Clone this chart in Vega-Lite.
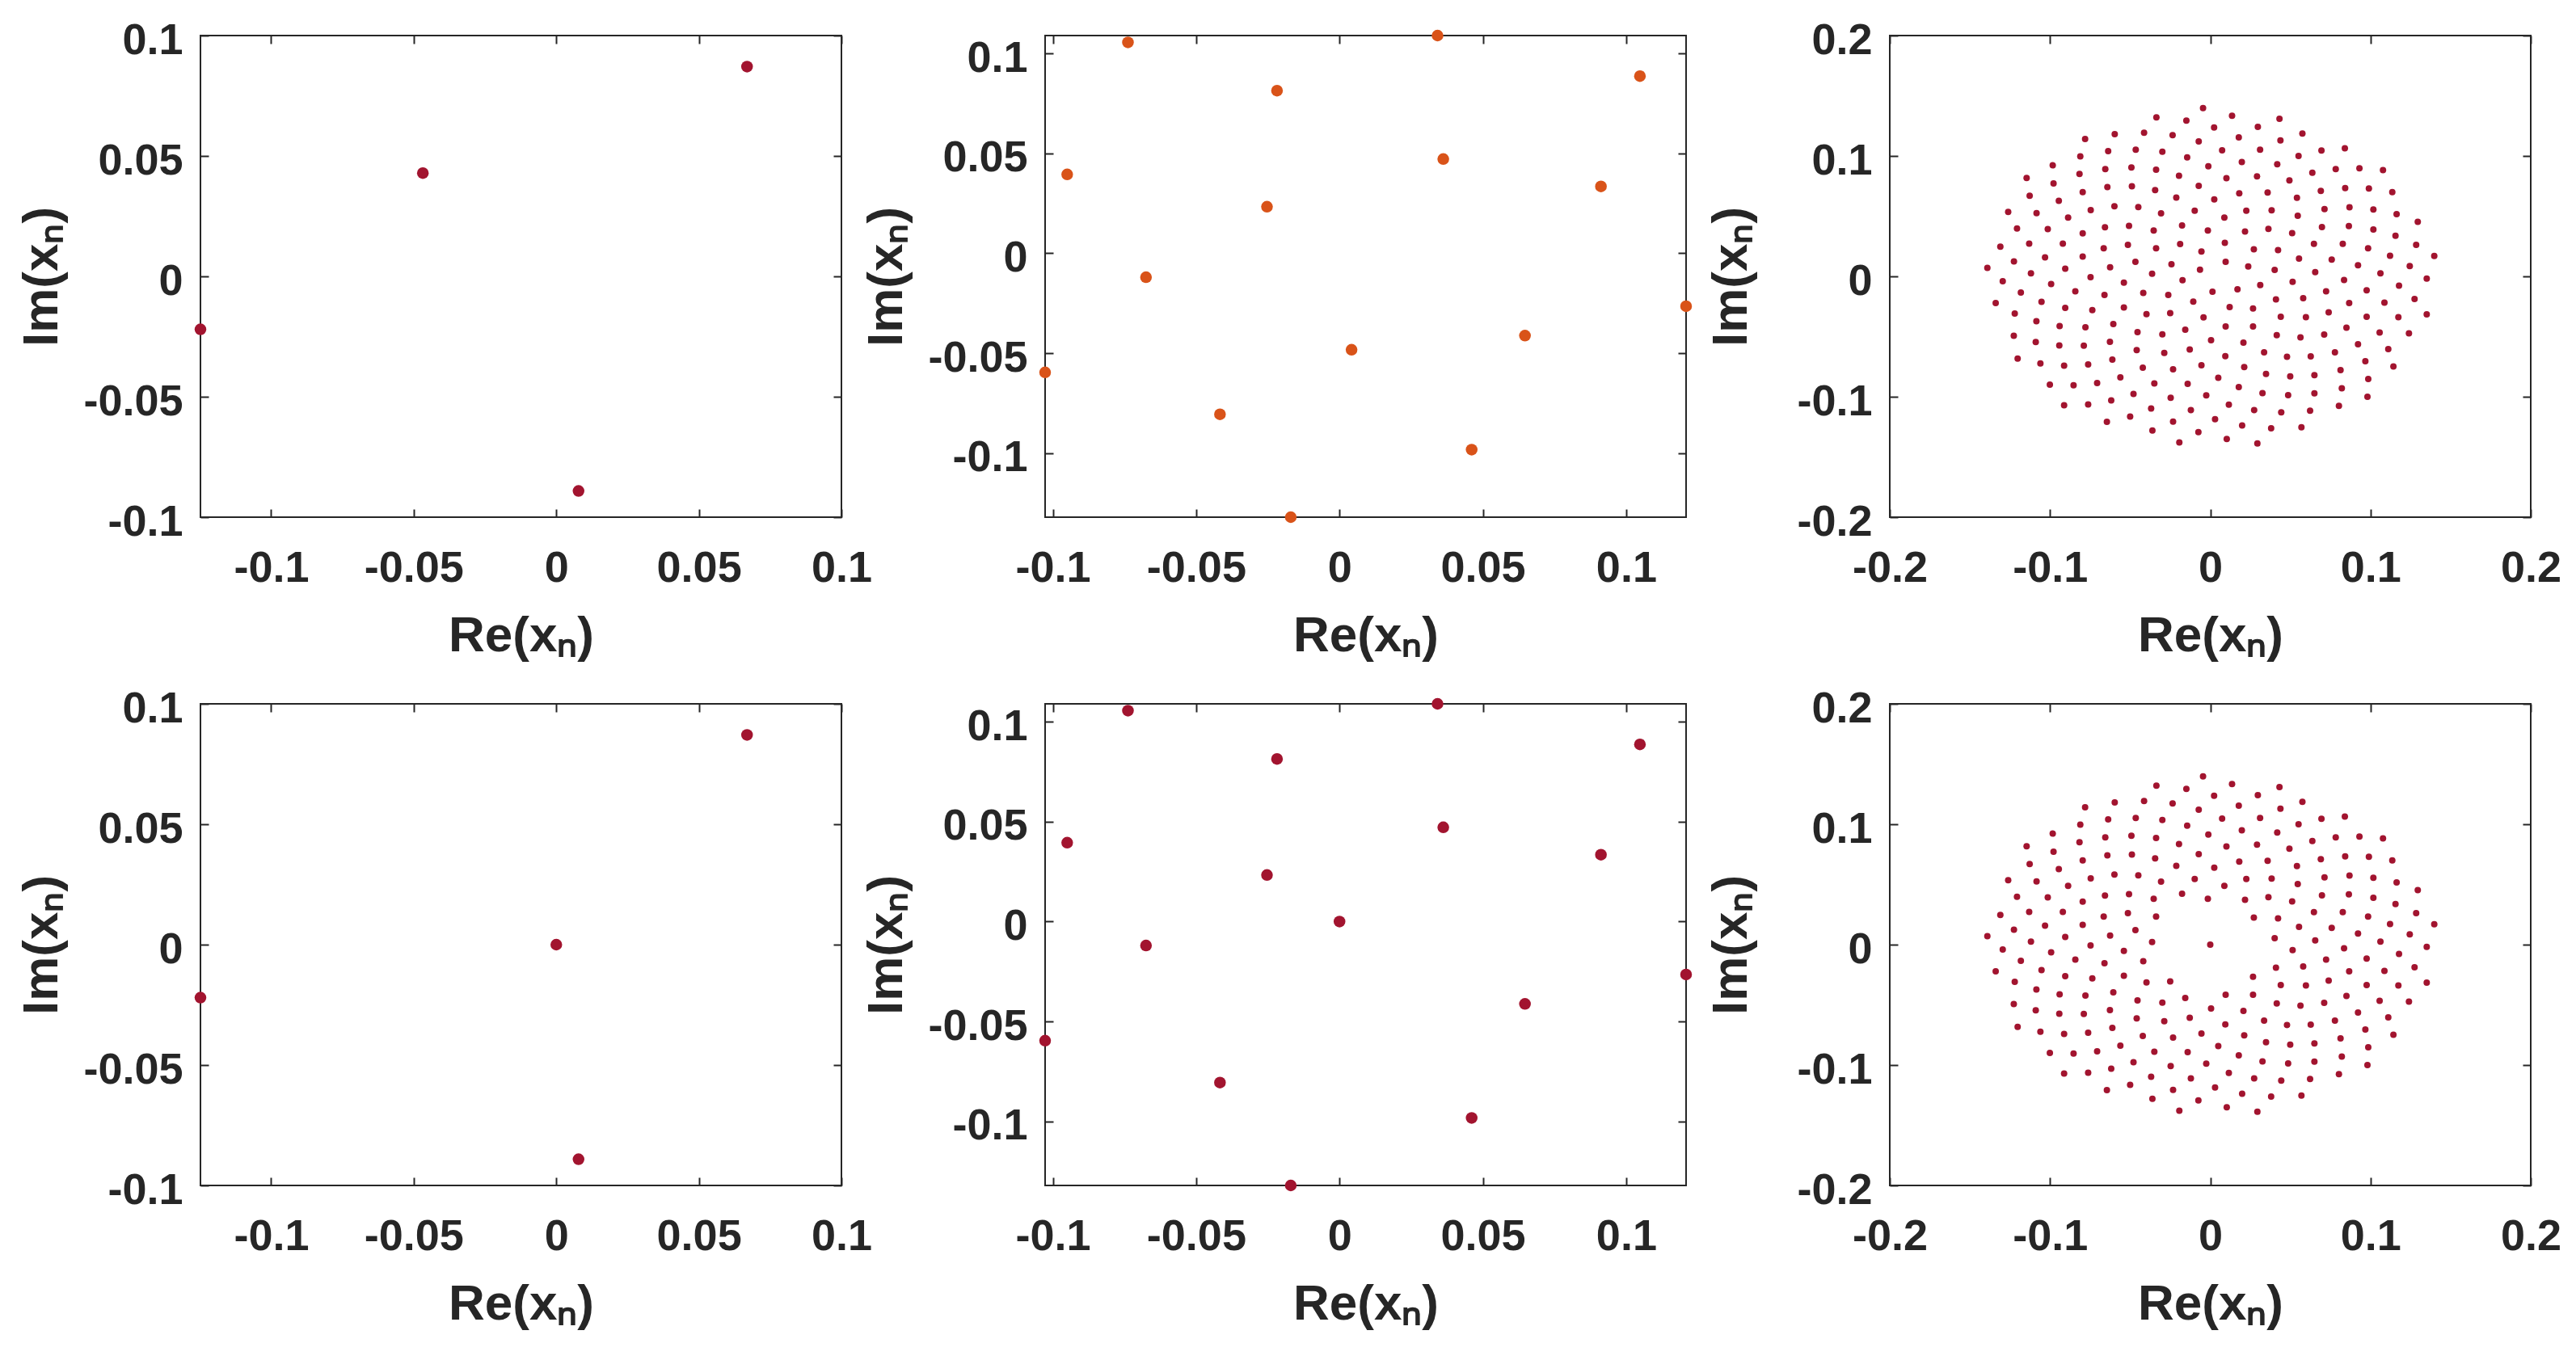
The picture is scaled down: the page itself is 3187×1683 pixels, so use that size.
{
  "$schema": "https://vega.github.io/schema/vega-lite/v6.json",
  "autosize": {"type": "none"},
  "padding": {"left": 248, "top": 44, "right": 2939, "bottom": 1639},
  "background": "white",
  "bounds": "flush",
  "columns": 3,
  "spacing": {"row": 231, "column": 252},
  "config": {
    "view": {"stroke": "#262626", "strokeWidth": 2},
    "font": "Liberation Sans",
    "axis": {
      "labelFont": "Liberation Sans", "labelFontSize": 54, "labelFontWeight": "bold", "labelColor": "#262626",
      "titleFont": "Liberation Sans", "titleFontSize": 62, "titleFontWeight": "bold", "titleColor": "#262626",
      "domain": false, "grid": false, "tickSize": -10, "tickWidth": 2, "tickColor": "#262626",
      "labelFlush": false, "labelOverlap": false
    }
  },
  "datasets": {
    "p1t": [{"x":0.0669,"y":0.0871},{"x":-0.0468,"y":0.0429},{"x":-0.1248,"y":-0.022},{"x":0.0078,"y":-0.0891}],
    "p1b": [{"x":0.0669,"y":0.0871},{"x":0,"y":0},{"x":-0.1248,"y":-0.022},{"x":0.0078,"y":-0.0891}],
    "p2t": [{"x":-0.0738,"y":0.1056},{"x":0.0342,"y":0.109},{"x":-0.0218,"y":0.0814},{"x":0.1048,"y":0.0887},{"x":-0.095,"y":0.0395},{"x":0.0362,"y":0.0472},{"x":0.0912,"y":0.0335},{"x":-0.0253,"y":0.0233},{"x":-0.0675,"y":-0.012},{"x":0.1209,"y":-0.0265},{"x":0.0647,"y":-0.0412},{"x":0.0042,"y":-0.0483},{"x":-0.1027,"y":-0.0596},{"x":-0.0417,"y":-0.0806},{"x":0.0461,"y":-0.0983},{"x":-0.017,"y":-0.1321}],
    "p2b": [{"x":-0.0738,"y":0.1056},{"x":0.0342,"y":0.109},{"x":-0.0218,"y":0.0814},{"x":0.1048,"y":0.0887},{"x":-0.095,"y":0.0395},{"x":0.0362,"y":0.0472},{"x":0.0912,"y":0.0335},{"x":-0.0253,"y":0.0233},{"x":-0.0675,"y":-0.012},{"x":0.1209,"y":-0.0265},{"x":0.0647,"y":-0.0412},{"x":0,"y":0},{"x":-0.1027,"y":-0.0596},{"x":-0.0417,"y":-0.0806},{"x":0.0461,"y":-0.0983},{"x":-0.017,"y":-0.1321}],
    "p3": [
      {"x":-0.0781,"y":0.1141,"g":"o"},{"x":-0.0596,"y":0.1181,"g":"o"},{"x":-0.0637,"y":0.1041,"g":"o"},{"x":-0.0811,"y":0.0996,"g":"o"},{"x":-0.0983,"y":0.0922,"g":"o"},{"x":-0.0655,"y":0.0891,"g":"o"},{"x":-0.0492,"y":0.0904,"g":"o"},{"x":-0.1146,"y":0.0817,"g":"o"},{"x":-0.0816,"y":0.0851,"g":"o"},{"x":-0.0978,"y":0.0772,"g":"o"},{"x":-0.0642,"y":0.0741,"g":"o"},{"x":-0.0489,"y":0.0748,"g":"o"},{"x":-0.1127,"y":0.067,"g":"o"},{"x":-0.0796,"y":0.0699,"g":"o"},{"x":-0.0945,"y":0.0627,"g":"o"},{"x":-0.1261,"y":0.0536,"g":"o"},{"x":-0.1084,"y":0.0526,"g":"o"},{"x":-0.0746,"y":0.0551,"g":"o"},{"x":-0.0598,"y":0.0583,"g":"o"},{"x":-0.0887,"y":0.0489,"g":"o"},{"x":-0.1206,"y":0.0397,"g":"o"},{"x":-0.1014,"y":0.0392,"g":"o"},{"x":-0.0657,"y":0.0408,"g":"o"},{"x":-0.0507,"y":0.0419,"g":"o"},{"x":-0.0796,"y":0.0357,"g":"o"},{"x":-0.131,"y":0.0247,"g":"o"},{"x":-0.113,"y":0.0272,"g":"o"},{"x":-0.092,"y":0.0272,"g":"o"},{"x":-0.0665,"y":0.0234,"g":"o"},{"x":-0.0514,"y":0.0261,"g":"o"},{"x":-0.1225,"y":0.0124,"g":"o"},{"x":-0.1031,"y":0.0158,"g":"o"},{"x":-0.0796,"y":0.0164,"g":"o"},{"x":-0.1391,"y":0.007,"g":"o"},{"x":-0.0905,"y":0.0064,"g":"o"},{"x":-0.0625,"y":0.0075,"g":"o"},{"x":-0.1119,"y":0.0026,"g":"o"},
      {"x":-0.0045,"y":0.1398,"g":"o"},{"x":-0.0336,"y":0.132,"g":"o"},{"x":-0.0149,"y":0.1293,"g":"o"},{"x":0.0136,"y":0.1334,"g":"o"},{"x":0.0432,"y":0.1309,"g":"o"},{"x":0.0024,"y":0.1237,"g":"o"},{"x":0.0297,"y":0.1242,"g":"o"},{"x":-0.0413,"y":0.1193,"g":"o"},{"x":-0.0235,"y":0.1173,"g":"o"},{"x":0.0178,"y":0.1155,"g":"o"},{"x":0.0438,"y":0.113,"g":"o"},{"x":-0.0072,"y":0.1121,"g":"o"},{"x":-0.0465,"y":0.1052,"g":"o"},{"x":-0.0299,"y":0.1036,"g":"o"},{"x":0.0074,"y":0.1047,"g":"o"},{"x":0.0311,"y":0.1052,"g":"o"},{"x":-0.0144,"y":0.0989,"g":"o"},{"x":0.0197,"y":0.0949,"g":"o"},{"x":0.0418,"y":0.0931,"g":"o"},{"x":-0.0012,"y":0.0915,"g":"o"},{"x":-0.0338,"y":0.0886,"g":"o"},{"x":-0.0195,"y":0.0835,"g":"o"},{"x":0.0101,"y":0.0815,"g":"o"},{"x":0.0292,"y":0.0831,"g":"o"},{"x":0.0494,"y":0.0797,"g":"o"},{"x":-0.0072,"y":0.0752,"g":"o"},{"x":-0.0344,"y":0.0717,"g":"o"},{"x":-0.0212,"y":0.0654,"g":"o"},{"x":0.0181,"y":0.069,"g":"o"},{"x":0.0358,"y":0.0697,"g":"o"},{"x":0.0025,"y":0.064,"g":"o"},{"x":-0.0449,"y":0.0576,"g":"o"},{"x":-0.0307,"y":0.0524,"g":"o"},{"x":-0.0097,"y":0.0546,"g":"o"},{"x":0.0225,"y":0.0546,"g":"o"},{"x":0.0383,"y":0.0549,"g":"o"},{"x":0.0088,"y":0.0489,"g":"o"},{"x":-0.0353,"y":0.0381,"g":"o"},{"x":-0.0176,"y":0.0422,"g":"o"},{"x":-0.0015,"y":0.0381,"g":"o"},{"x":0.0217,"y":0.0372,"g":"o"},{"x":0.0363,"y":0.0395,"g":"o"},{"x":0.0511,"y":0.0359,"g":"o"},{"x":0.0091,"y":0.0278,"g":"i"},{"x":-0.0338,"y":0.0234,"g":"o"},{"x":-0.0188,"y":0.0268,"g":"i"},{"x":-0.0055,"y":0.0207,"g":"i"},{"x":0.0272,"y":0.0225,"g":"o"},{"x":0.0423,"y":0.0218,"g":"o"},{"x":-0.0467,"y":0.012,"g":"o"},{"x":-0.0242,"y":0.01,"g":"i"},{"x":0.0096,"y":0.012,"g":"i"},{"x":-0.0064,"y":0.0055,"g":"i"},{"x":0.0237,"y":0.0082,"g":"i"},{"x":0.0402,"y":0.0053,"g":"o"},{"x":-0.0363,"y":0.0021,"g":"o"},
      {"x":0.0575,"y":0.1186,"g":"o"},{"x":0.0694,"y":0.1045,"g":"o"},{"x":0.084,"y":0.1063,"g":"o"},{"x":0.0551,"y":0.1,"g":"o"},{"x":0.0637,"y":0.086,"g":"o"},{"x":0.0783,"y":0.0891,"g":"o"},{"x":0.0931,"y":0.0898,"g":"o"},{"x":0.1078,"y":0.0882,"g":"o"},{"x":0.0541,"y":0.0652,"g":"o"},{"x":0.069,"y":0.071,"g":"o"},{"x":0.0842,"y":0.0734,"g":"o"},{"x":0.099,"y":0.073,"g":"o"},{"x":0.1136,"y":0.0699,"g":"o"},{"x":0.0546,"y":0.0504,"g":"o"},{"x":0.0713,"y":0.0558,"g":"o"},{"x":0.0869,"y":0.0573,"g":"o"},{"x":0.1018,"y":0.0556,"g":"o"},{"x":0.1163,"y":0.0516,"g":"o"},{"x":0.1295,"y":0.0453,"g":"o"},{"x":0.0697,"y":0.041,"g":"o"},{"x":0.0865,"y":0.0417,"g":"o"},{"x":0.1018,"y":0.039,"g":"o"},{"x":0.1156,"y":0.0337,"g":"o"},{"x":0.0647,"y":0.027,"g":"o"},{"x":0.0827,"y":0.027,"g":"o"},{"x":0.0985,"y":0.0234,"g":"o"},{"x":0.1285,"y":0.0261,"g":"o"},{"x":0.0554,"y":0.0147,"g":"o"},{"x":0.0758,"y":0.014,"g":"o"},{"x":0.0922,"y":0.0093,"g":"o"},{"x":0.1122,"y":0.0171,"g":"o"},{"x":0.1245,"y":0.0086,"g":"o"},{"x":0.1398,"y":0.0169,"g":"o"},{"x":0.0655,"y":0.0035,"g":"o"},{"x":0.1062,"y":0.0026,"g":"o"},
      {"x":-0.1295,"y":-0.0041,"g":"o"},{"x":-0.0747,"y":-0.0007,"g":"o"},{"x":-0.0993,"y":-0.0064,"g":"o"},{"x":-0.0539,"y":-0.0052,"g":"o"},{"x":-0.1182,"y":-0.0135,"g":"o"},{"x":-0.0842,"y":-0.0124,"g":"o"},{"x":-0.066,"y":-0.0155,"g":"o"},{"x":-0.1339,"y":-0.0222,"g":"o"},{"x":-0.1053,"y":-0.0211,"g":"o"},{"x":-0.0905,"y":-0.0262,"g":"o"},{"x":-0.0736,"y":-0.028,"g":"o"},{"x":-0.0539,"y":-0.0258,"g":"o"},{"x":-0.122,"y":-0.0309,"g":"o"},{"x":-0.1085,"y":-0.0372,"g":"o"},{"x":-0.094,"y":-0.0412,"g":"o"},{"x":-0.0779,"y":-0.0423,"g":"o"},{"x":-0.0605,"y":-0.0396,"g":"o"},{"x":-0.1226,"y":-0.0493,"g":"o"},{"x":-0.1089,"y":-0.0546,"g":"o"},{"x":-0.0942,"y":-0.0573,"g":"o"},{"x":-0.0789,"y":-0.0575,"g":"o"},{"x":-0.0626,"y":-0.0544,"g":"o"},{"x":-0.1202,"y":-0.0683,"g":"o"},{"x":-0.106,"y":-0.0723,"g":"o"},{"x":-0.0912,"y":-0.0741,"g":"o"},{"x":-0.0762,"y":-0.0731,"g":"o"},{"x":-0.0611,"y":-0.0691,"g":"o"},{"x":-0.1001,"y":-0.0899,"g":"o"},{"x":-0.0853,"y":-0.0904,"g":"o"},{"x":-0.0706,"y":-0.0886,"g":"o"},{"x":-0.0561,"y":-0.0839,"g":"o"},{"x":-0.0479,"y":-0.0976,"g":"o"},{"x":-0.0912,"y":-0.1071,"g":"o"},{"x":-0.0762,"y":-0.1063,"g":"o"},{"x":-0.0618,"y":-0.1031,"g":"o"},{"x":-0.05,"y":-0.1165,"g":"o"},{"x":-0.0645,"y":-0.1208,"g":"o"},
      {"x":-0.0173,"y":-0.0032,"g":"i"},{"x":-0.0418,"y":-0.0137,"g":"o"},{"x":-0.0262,"y":-0.0155,"g":"i"},{"x":0.0014,"y":-0.0128,"g":"i"},{"x":0.017,"y":-0.0108,"g":"i"},{"x":0.0312,"y":-0.0072,"g":"i"},{"x":0.0514,"y":-0.0046,"g":"o"},{"x":-0.0106,"y":-0.0209,"g":"i"},{"x":-0.0398,"y":-0.0314,"g":"o"},{"x":-0.025,"y":-0.0305,"g":"o"},{"x":0.0121,"y":-0.0255,"g":"i"},{"x":0.0267,"y":-0.0267,"g":"o"},{"x":0.041,"y":-0.0191,"g":"o"},{"x":-0.0042,"y":-0.0341,"g":"i"},{"x":-0.0454,"y":-0.0463,"g":"o"},{"x":-0.0299,"y":-0.0481,"g":"o"},{"x":-0.0156,"y":-0.0443,"g":"o"},{"x":0.0096,"y":-0.0416,"g":"o"},{"x":0.0267,"y":-0.0416,"g":"o"},{"x":0.044,"y":-0.0336,"g":"o"},{"x":0.0005,"y":-0.053,"g":"o"},{"x":0.0207,"y":-0.055,"g":"o"},{"x":0.0415,"y":-0.0488,"g":"o"},{"x":-0.0459,"y":-0.0613,"g":"o"},{"x":-0.0287,"y":-0.0636,"g":"o"},{"x":-0.0128,"y":-0.0607,"g":"o"},{"x":0.0094,"y":-0.0662,"g":"o"},{"x":0.0336,"y":-0.0631,"g":"o"},{"x":0.0479,"y":-0.0667,"g":"o"},{"x":-0.0421,"y":-0.0758,"g":"o"},{"x":-0.0232,"y":-0.0772,"g":"o"},{"x":-0.0055,"y":-0.0738,"g":"o"},{"x":0.0212,"y":-0.0754,"g":"o"},{"x":0.0348,"y":-0.081,"g":"o"},{"x":0.0499,"y":-0.083,"g":"o"},{"x":0.005,"y":-0.0843,"g":"o"},{"x":-0.0349,"y":-0.089,"g":"o"},{"x":-0.0141,"y":-0.0892,"g":"o"},{"x":0.0178,"y":-0.0919,"g":"o"},{"x":-0.0247,"y":-0.1009,"g":"o"},{"x":-0.0025,"y":-0.0989,"g":"o"},{"x":0.0326,"y":-0.0969,"g":"o"},{"x":0.0486,"y":-0.0986,"g":"o"},{"x":0.0116,"y":-0.1065,"g":"o"},{"x":-0.0369,"y":-0.1098,"g":"o"},{"x":-0.0121,"y":-0.111,"g":"o"},{"x":0.0274,"y":-0.111,"g":"o"},{"x":0.0443,"y":-0.113,"g":"o"},{"x":-0.0232,"y":-0.1206,"g":"o"},{"x":0.003,"y":-0.1187,"g":"o"},{"x":-0.0361,"y":-0.1281,"g":"o"},{"x":-0.0074,"y":-0.1293,"g":"o"},{"x":0.0199,"y":-0.1239,"g":"o"},{"x":0.038,"y":-0.1261,"g":"o"},{"x":-0.0193,"y":-0.138,"g":"o"},{"x":0.0103,"y":-0.1351,"g":"o"},{"x":0.0294,"y":-0.1387,"g":"o"},
      {"x":0.0835,"y":-0.003,"g":"o"},{"x":0.1351,"y":-0.0019,"g":"o"},{"x":0.0723,"y":-0.0124,"g":"o"},{"x":0.0976,"y":-0.0115,"g":"o"},{"x":0.1178,"y":-0.0077,"g":"o"},{"x":0.058,"y":-0.0182,"g":"o"},{"x":0.0867,"y":-0.0222,"g":"o"},{"x":0.1087,"y":-0.0218,"g":"o"},{"x":0.1275,"y":-0.0188,"g":"o"},{"x":0.0597,"y":-0.0339,"g":"o"},{"x":0.0739,"y":-0.0298,"g":"o"},{"x":0.0976,"y":-0.0336,"g":"o"},{"x":0.1174,"y":-0.0339,"g":"o"},{"x":0.1351,"y":-0.0316,"g":"o"},{"x":0.0563,"y":-0.0506,"g":"o"},{"x":0.0711,"y":-0.0483,"g":"o"},{"x":0.085,"y":-0.0426,"g":"o"},{"x":0.1057,"y":-0.0466,"g":"o"},{"x":0.124,"y":-0.0473,"g":"o"},{"x":0.0627,"y":-0.0664,"g":"o"},{"x":0.0778,"y":-0.0631,"g":"o"},{"x":0.0922,"y":-0.0564,"g":"o"},{"x":0.1111,"y":-0.0604,"g":"o"},{"x":0.065,"y":-0.0821,"g":"o"},{"x":0.0813,"y":-0.0778,"g":"o"},{"x":0.0968,"y":-0.0705,"g":"o"},{"x":0.1143,"y":-0.0748,"g":"o"},{"x":0.065,"y":-0.0971,"g":"o"},{"x":0.0821,"y":-0.0929,"g":"o"},{"x":0.0986,"y":-0.0852,"g":"o"},{"x":0.0623,"y":-0.1116,"g":"o"},{"x":0.0803,"y":-0.1076,"g":"o"},{"x":0.0981,"y":-0.1,"g":"o"},{"x":0.0569,"y":-0.1254,"g":"o"},
      {"x":0,"y":0,"g":"c"}
    ]
  },
  "concat": [
    {
      "width": 793, "height": 596,
      "data": {"name": "p1t"},
      "layer": [
        {"mark": {"type": "circle", "size": 210, "color": "#A2142F", "opacity": 1},
         "encoding": {
           "x": {"field": "x", "type": "quantitative", "scale": {"domain": [-0.1248, 0.1], "nice": false, "zero": false},
                 "axis": {"orient": "bottom", "values": [-0.1, -0.05, 0, 0.05, 0.1], "title": "Re(xₙ)", "labelExpr": "'' + datum.value", "labelPadding": 46, "titleY": 165, "titleBaseline": "alphabetic"}},
           "y": {"field": "y", "type": "quantitative", "scale": {"domain": [-0.1, 0.1], "nice": false, "zero": false},
                 "axis": {"orient": "left", "values": [-0.1, -0.05, 0, 0.05, 0.1], "title": "Im(xₙ)", "labelExpr": "'' + datum.value", "labelPadding": 32, "labelOffset": 6, "titleX": -178, "titleBaseline": "alphabetic"}}
         }},
        {"mark": {"type": "circle", "opacity": 0},
         "encoding": {
           "x": {"field": "x", "type": "quantitative", "scale": {"domain": [-0.1248, 0.1], "nice": false, "zero": false},
                 "axis": {"orient": "top", "values": [-0.1, -0.05, 0, 0.05, 0.1], "labels": false, "title": null}},
           "y": {"field": "y", "type": "quantitative", "scale": {"domain": [-0.1, 0.1], "nice": false, "zero": false},
                 "axis": {"orient": "right", "values": [-0.1, -0.05, 0, 0.05, 0.1], "labels": false, "title": null}}
         }}
      ],
      "resolve": {"axis": {"x": "independent", "y": "independent"}}
    },
    {
      "width": 793, "height": 596,
      "data": {"name": "p2t"},
      "layer": [
        {"mark": {"type": "circle", "size": 210, "color": "#D95319", "opacity": 1},
         "encoding": {
           "x": {"field": "x", "type": "quantitative", "scale": {"domain": [-0.1027, 0.1209], "nice": false, "zero": false},
                 "axis": {"orient": "bottom", "values": [-0.1, -0.05, 0, 0.05, 0.1], "title": "Re(xₙ)", "labelExpr": "'' + datum.value", "labelPadding": 46, "titleY": 165, "titleBaseline": "alphabetic"}},
           "y": {"field": "y", "type": "quantitative", "scale": {"domain": [-0.1321, 0.109], "nice": false, "zero": false},
                 "axis": {"orient": "left", "values": [-0.1, -0.05, 0, 0.05, 0.1], "title": "Im(xₙ)", "labelExpr": "'' + datum.value", "labelPadding": 32, "labelOffset": 6, "titleX": -178, "titleBaseline": "alphabetic"}}
         }},
        {"mark": {"type": "circle", "opacity": 0},
         "encoding": {
           "x": {"field": "x", "type": "quantitative", "scale": {"domain": [-0.1027, 0.1209], "nice": false, "zero": false},
                 "axis": {"orient": "top", "values": [-0.1, -0.05, 0, 0.05, 0.1], "labels": false, "title": null}},
           "y": {"field": "y", "type": "quantitative", "scale": {"domain": [-0.1321, 0.109], "nice": false, "zero": false},
                 "axis": {"orient": "right", "values": [-0.1, -0.05, 0, 0.05, 0.1], "labels": false, "title": null}}
         }}
      ],
      "resolve": {"axis": {"x": "independent", "y": "independent"}}
    },
    {
      "width": 793, "height": 596,
      "data": {"name": "p3"},
      "transform": [{"filter": "datum.g != 'c'"}],
      "layer": [
        {"mark": {"type": "circle", "size": 64, "color": "#A2142F", "opacity": 1},
         "encoding": {
           "x": {"field": "x", "type": "quantitative", "scale": {"domain": [-0.2, 0.2], "nice": false, "zero": false},
                 "axis": {"orient": "bottom", "values": [-0.2, -0.1, 0, 0.1, 0.2], "title": "Re(xₙ)", "labelExpr": "'' + datum.value", "labelPadding": 46, "titleY": 165, "titleBaseline": "alphabetic"}},
           "y": {"field": "y", "type": "quantitative", "scale": {"domain": [-0.2, 0.2], "nice": false, "zero": false},
                 "axis": {"orient": "left", "values": [-0.2, -0.1, 0, 0.1, 0.2], "title": "Im(xₙ)", "labelExpr": "'' + datum.value", "labelPadding": 32, "labelOffset": 6, "titleX": -178, "titleBaseline": "alphabetic"}}
         }},
        {"mark": {"type": "circle", "opacity": 0},
         "encoding": {
           "x": {"field": "x", "type": "quantitative", "scale": {"domain": [-0.2, 0.2], "nice": false, "zero": false},
                 "axis": {"orient": "top", "values": [-0.2, -0.1, 0, 0.1, 0.2], "labels": false, "title": null}},
           "y": {"field": "y", "type": "quantitative", "scale": {"domain": [-0.2, 0.2], "nice": false, "zero": false},
                 "axis": {"orient": "right", "values": [-0.2, -0.1, 0, 0.1, 0.2], "labels": false, "title": null}}
         }}
      ],
      "resolve": {"axis": {"x": "independent", "y": "independent"}}
    },
    {
      "width": 793, "height": 596,
      "data": {"name": "p1b"},
      "layer": [
        {"mark": {"type": "circle", "size": 210, "color": "#A2142F", "opacity": 1},
         "encoding": {
           "x": {"field": "x", "type": "quantitative", "scale": {"domain": [-0.1248, 0.1], "nice": false, "zero": false},
                 "axis": {"orient": "bottom", "values": [-0.1, -0.05, 0, 0.05, 0.1], "title": "Re(xₙ)", "labelExpr": "'' + datum.value", "labelPadding": 46, "titleY": 165, "titleBaseline": "alphabetic"}},
           "y": {"field": "y", "type": "quantitative", "scale": {"domain": [-0.1, 0.1], "nice": false, "zero": false},
                 "axis": {"orient": "left", "values": [-0.1, -0.05, 0, 0.05, 0.1], "title": "Im(xₙ)", "labelExpr": "'' + datum.value", "labelPadding": 32, "labelOffset": 6, "titleX": -178, "titleBaseline": "alphabetic"}}
         }},
        {"mark": {"type": "circle", "opacity": 0},
         "encoding": {
           "x": {"field": "x", "type": "quantitative", "scale": {"domain": [-0.1248, 0.1], "nice": false, "zero": false},
                 "axis": {"orient": "top", "values": [-0.1, -0.05, 0, 0.05, 0.1], "labels": false, "title": null}},
           "y": {"field": "y", "type": "quantitative", "scale": {"domain": [-0.1, 0.1], "nice": false, "zero": false},
                 "axis": {"orient": "right", "values": [-0.1, -0.05, 0, 0.05, 0.1], "labels": false, "title": null}}
         }}
      ],
      "resolve": {"axis": {"x": "independent", "y": "independent"}}
    },
    {
      "width": 793, "height": 596,
      "data": {"name": "p2b"},
      "layer": [
        {"mark": {"type": "circle", "size": 210, "color": "#A2142F", "opacity": 1},
         "encoding": {
           "x": {"field": "x", "type": "quantitative", "scale": {"domain": [-0.1027, 0.1209], "nice": false, "zero": false},
                 "axis": {"orient": "bottom", "values": [-0.1, -0.05, 0, 0.05, 0.1], "title": "Re(xₙ)", "labelExpr": "'' + datum.value", "labelPadding": 46, "titleY": 165, "titleBaseline": "alphabetic"}},
           "y": {"field": "y", "type": "quantitative", "scale": {"domain": [-0.1321, 0.109], "nice": false, "zero": false},
                 "axis": {"orient": "left", "values": [-0.1, -0.05, 0, 0.05, 0.1], "title": "Im(xₙ)", "labelExpr": "'' + datum.value", "labelPadding": 32, "labelOffset": 6, "titleX": -178, "titleBaseline": "alphabetic"}}
         }},
        {"mark": {"type": "circle", "opacity": 0},
         "encoding": {
           "x": {"field": "x", "type": "quantitative", "scale": {"domain": [-0.1027, 0.1209], "nice": false, "zero": false},
                 "axis": {"orient": "top", "values": [-0.1, -0.05, 0, 0.05, 0.1], "labels": false, "title": null}},
           "y": {"field": "y", "type": "quantitative", "scale": {"domain": [-0.1321, 0.109], "nice": false, "zero": false},
                 "axis": {"orient": "right", "values": [-0.1, -0.05, 0, 0.05, 0.1], "labels": false, "title": null}}
         }}
      ],
      "resolve": {"axis": {"x": "independent", "y": "independent"}}
    },
    {
      "width": 793, "height": 596,
      "data": {"name": "p3"},
      "transform": [{"filter": "datum.g != 'i'"}],
      "layer": [
        {"mark": {"type": "circle", "size": 64, "color": "#A2142F", "opacity": 1},
         "encoding": {
           "x": {"field": "x", "type": "quantitative", "scale": {"domain": [-0.2, 0.2], "nice": false, "zero": false},
                 "axis": {"orient": "bottom", "values": [-0.2, -0.1, 0, 0.1, 0.2], "title": "Re(xₙ)", "labelExpr": "'' + datum.value", "labelPadding": 46, "titleY": 165, "titleBaseline": "alphabetic"}},
           "y": {"field": "y", "type": "quantitative", "scale": {"domain": [-0.2, 0.2], "nice": false, "zero": false},
                 "axis": {"orient": "left", "values": [-0.2, -0.1, 0, 0.1, 0.2], "title": "Im(xₙ)", "labelExpr": "'' + datum.value", "labelPadding": 32, "labelOffset": 6, "titleX": -178, "titleBaseline": "alphabetic"}}
         }},
        {"mark": {"type": "circle", "opacity": 0},
         "encoding": {
           "x": {"field": "x", "type": "quantitative", "scale": {"domain": [-0.2, 0.2], "nice": false, "zero": false},
                 "axis": {"orient": "top", "values": [-0.2, -0.1, 0, 0.1, 0.2], "labels": false, "title": null}},
           "y": {"field": "y", "type": "quantitative", "scale": {"domain": [-0.2, 0.2], "nice": false, "zero": false},
                 "axis": {"orient": "right", "values": [-0.2, -0.1, 0, 0.1, 0.2], "labels": false, "title": null}}
         }}
      ],
      "resolve": {"axis": {"x": "independent", "y": "independent"}}
    }
  ]
}
